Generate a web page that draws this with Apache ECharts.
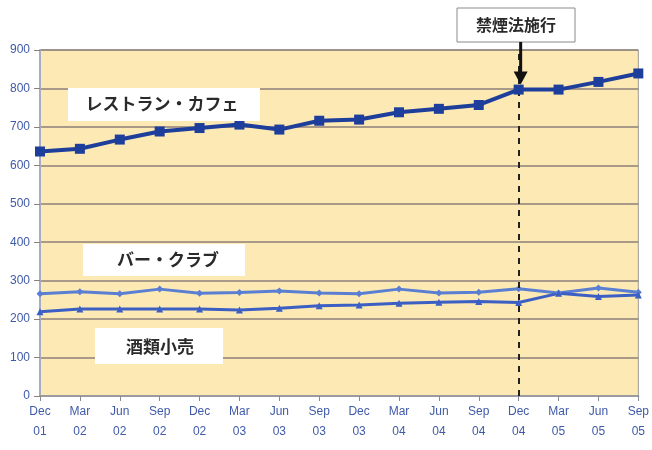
<!DOCTYPE html>
<html><head><meta charset="utf-8">
<script src="https://cdn.jsdelivr.net/npm/echarts@6/dist/echarts.min.js"></script>
<style>html,body{margin:0;padding:0;background:#fff}#c{width:652px;height:450px}</style>
</head><body><div id="c"></div>
<script>
const categories = ['Dec\n01','Mar\n02','Jun\n02','Sep\n02','Dec\n02','Mar\n03','Jun\n03','Sep\n03','Dec\n03','Mar\n04','Jun\n04','Sep\n04','Dec\n04','Mar\n05','Jun\n05','Sep\n05'];
const restaurantCafe = [636, 643, 667, 688, 697, 706, 693, 716, 719, 738, 747, 757, 797, 797, 817, 839];
const barClub = [266, 271, 266, 278, 267, 269, 273, 268, 266, 278, 268, 270, 279, 268, 281, 270];
const liquorRetail = [219, 226, 226, 226, 226, 224, 228, 235, 237, 241, 244, 246, 243, 267, 259, 263];
const yTicks = [0, 100, 200, 300, 400, 500, 600, 700, 800, 900];
const seriesNames = ['レストラン・カフェ', 'バー・クラブ', '酒類小売'];
const banIndex = 12;
const banLabel = '禁煙法施行';

const chart = echarts.init(document.getElementById('c'), null, {renderer: 'canvas'});
const labelFont = '"Noto Sans CJK JP", sans-serif';
const axisFont = '"Liberation Sans Narrow", "Liberation Sans", sans-serif';

const option = {
  animation: false,
  backgroundColor: '#ffffff',
  grid: {left: 40, top: 50, right: 9, bottom: 54, show: true, backgroundColor: '#fce9b4', borderColor: '#a09a98', borderWidth: 1},
  xAxis: {
    type: 'category', data: categories, boundaryGap: false,
    axisLine: {lineStyle: {color: '#9a9aa0', width: 2}},
    axisTick: {show: true, length: 5, lineStyle: {color: '#8a8a90'}},
    axisLabel: {color: '#3f5aa8', fontFamily: axisFont, fontSize: 12, lineHeight: 20, margin: 6, interval: 0},
    splitLine: {show: false}
  },
  yAxis: {
    type: 'value', min: yTicks[0], max: yTicks[yTicks.length - 1], interval: 100,
    axisLine: {show: true, lineStyle: {color: '#a8acc0', width: 2}},
    axisTick: {show: true, length: 6, lineStyle: {color: '#8a8278'}},
    axisLabel: {color: '#3f5aa8', fontFamily: axisFont, fontSize: 12, margin: 10},
    splitLine: {lineStyle: {color: '#8c7f78', width: 1.5}}
  },
  series: [
    {
      name: seriesNames[0], type: 'line', data: restaurantCafe,
      symbol: 'rect', symbolSize: 10,
      lineStyle: {color: '#1e3e9c', width: 4},
      itemStyle: {color: '#1e3e9c'},
      z: 5,
      markLine: {
        silent: true, symbol: 'none', animation: false,
        lineStyle: {color: '#222', type: [6, 6], width: 2},
        label: {show: false},
        data: [{xAxis: banIndex}]
      }
    },
    {
      name: seriesNames[1], type: 'line', data: barClub,
      symbol: 'diamond', symbolSize: 7,
      lineStyle: {color: '#5a7fd2', width: 3},
      itemStyle: {color: '#5a7fd2'}
    },
    {
      name: seriesNames[2], type: 'line', data: liquorRetail,
      symbol: 'triangle', symbolSize: 7,
      lineStyle: {color: '#3c5fc4', width: 3},
      itemStyle: {color: '#3c5fc4'}
    }
  ]
};
chart.setOption(option);

const p = chart.convertToPixel({xAxisIndex: 0, yAxisIndex: 0}, [banIndex, restaurantCafe[banIndex]]);
const ax = p[0];
chart.setOption({
  graphic: [
    {type: 'rect', shape: {x: 68, y: 88, width: 192, height: 33}, style: {fill: '#ffffff'}, z: 10},
    {type: 'text', x: 162, y: 104, style: {text: seriesNames[0], font: 'bold 17px ' + labelFont, fill: '#2a2a2a', align: 'center', verticalAlign: 'middle'}, z: 11},
    {type: 'rect', shape: {x: 83, y: 244, width: 162, height: 32}, style: {fill: '#ffffff'}, z: 10},
    {type: 'text', x: 168, y: 260, style: {text: seriesNames[1], font: 'bold 17px ' + labelFont, fill: '#2a2a2a', align: 'center', verticalAlign: 'middle'}, z: 11},
    {type: 'rect', shape: {x: 95, y: 328, width: 128, height: 36}, style: {fill: '#ffffff'}, z: 10},
    {type: 'text', x: 160, y: 347, style: {text: seriesNames[2], font: 'bold 17px ' + labelFont, fill: '#2a2a2a', align: 'center', verticalAlign: 'middle'}, z: 11},
    {type: 'rect', shape: {x: 457, y: 8, width: 118, height: 34}, style: {fill: '#ffffff', stroke: '#8a8a8a', lineWidth: 1}, z: 10},
    {type: 'text', x: 516, y: 25, style: {text: banLabel, font: 'bold 16px ' + labelFont, fill: '#2a2a2a', align: 'center', verticalAlign: 'middle'}, z: 11},
    {type: 'line', shape: {x1: ax + 2, y1: 42, x2: ax + 2, y2: p[1] - 16}, style: {stroke: '#111', lineWidth: 3}, z: 12},
    {type: 'polygon', shape: {points: [[ax - 5, p[1] - 18], [ax + 9, p[1] - 18], [ax + 2, p[1] - 5]]}, style: {fill: '#111'}, z: 12}
  ]
});
</script></body></html>
